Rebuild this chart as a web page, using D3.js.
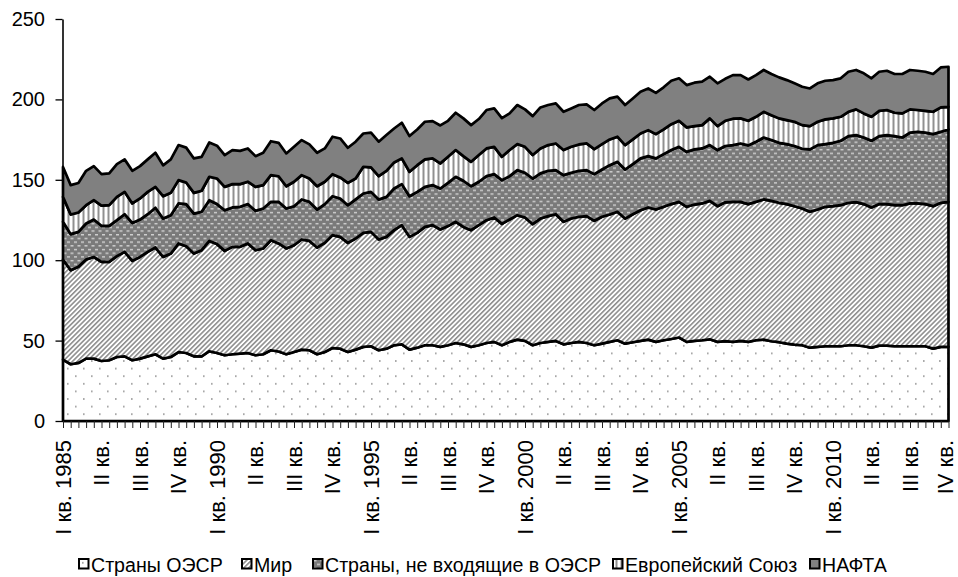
<!DOCTYPE html>
<html>
<head>
<meta charset="utf-8">
<script src="https://cdn.jsdelivr.net/npm/d3@7"></script>
<style>
  html, body { margin: 0; padding: 0; background: #fff; }
  svg { display: block; font-family: "Liberation Sans", Arial, sans-serif; }
</style>
</head>
<body>
<svg id="chart" width="958" height="577"></svg>
<script>
// Quarterly categories, 1985 Q1 – 2013 Q4
const years = d3.range(1985, 2014);
const quarterNames = ["I", "II", "III", "IV"];
const categories = years.flatMap(y => quarterNames.map(q => `${q} кв. ${y}`));

// Labels shown on every fifth quarter
const tickLabels = [
  "I кв. 1985", "II кв.", "III кв.", "IV кв.",
  "I кв. 1990", "II кв.", "III кв.", "IV кв.",
  "I кв. 1995", "II кв.", "III кв.", "IV кв.",
  "I кв. 2000", "II кв.", "III кв.", "IV кв.",
  "I кв. 2005", "II кв.", "III кв.", "IV кв.",
  "I кв. 2010", "II кв.", "III кв.", "IV кв."
];
const labelStep = 5;

const yTicks = [0, 50, 100, 150, 200, 250];

const seriesNames = ["Страны ОЭСР", "Мир", "Страны, не входящие в ОЭСР", "Европейский Союз", "НАФТА"];

const oecd = [
  38.2,35.3,36.1,38.8,38.8,37.3,37.8,39.8,40.2,37.8,38.8,40.2,41.5,38.8,39.8,42.9,42.3,40.2,40.2,43.4,42.3,40.9,41.5,41.9,42.3,40.9,41.5,44.0,43.2,
  41.5,42.9,44.4,44.0,41.5,42.9,45.4,45.0,42.9,44.4,46.1,46.5,44.0,45.0,47.1,47.7,44.4,45.6,47.1,47.1,46.1,47.1,48.5,47.7,46.1,47.1,48.5,49.2,47.1,
  49.2,50.6,49.8,47.1,48.5,49.2,49.8,47.7,48.5,49.2,48.5,47.1,48.1,49.2,50.2,48.1,49.0,49.8,50.6,49.2,50.2,51.0,51.9,49.2,49.8,50.2,50.8,49.2,49.7,
  49.2,49.8,49.2,50.2,50.6,49.6,49.0,48.1,47.5,47.1,45.6,46.1,46.5,46.5,46.5,47.1,47.1,46.5,45.6,46.9,46.9,46.5,46.5,46.5,46.5,46.5,45.0,46.1,46.1
];
const world = [
  62.2,58.5,59.8,61.6,63.2,61.7,61.2,62.7,65.0,61.8,63.2,65.0,66.4,63.2,64.3,67.5,66.4,63.9,66.0,68.6,67.7,64.9,66.8,66.4,68.1,65.3,65.8,68.4,67.2,
  65.8,66.4,68.5,68.0,66.4,67.9,70.2,69.5,67.9,69.1,70.9,71.1,68.9,69.5,71.6,74.1,70.1,71.4,73.6,74.7,73.0,74.1,75.4,73.0,72.6,74.7,76.4,77.4,75.5,
  76.1,77.4,76.8,75.3,77.4,78.2,78.8,76.2,77.4,77.8,78.9,77.4,78.9,79.2,79.9,77.8,79.6,81.3,82.2,82.3,83.0,83.9,84.4,84.0,84.8,85.1,86.1,84.4,86.3,
  87.1,86.5,85.7,86.1,87.2,87.3,86.7,86.8,86.1,85.1,84.5,85.4,86.7,87.1,87.7,88.6,89.0,88.4,87.2,88.0,88.0,87.7,87.7,88.8,88.8,88.4,88.6,89.6,90.2
];
const nonOecd = [
  23.5,22.4,21.7,22.4,23.3,22.4,22.4,22.4,23.4,23.6,23.3,23.4,24.7,23.9,23.9,24.9,26.2,24.9,23.9,25.3,24.9,25.3,24.5,24.9,24.5,24.5,24.9,23.9,25.9,
  24.9,24.3,24.9,24.3,23.6,24.1,24.2,23.9,23.4,24.3,24.5,24.9,24.9,24.9,25.9,25.5,25.3,25.5,24.9,24.9,25.5,26.9,28.0,28.7,27.3,27.0,27.4,26.9,27.2,
  27.0,28.0,27.8,28.4,28.1,28.2,27.4,29.0,28.5,28.6,28.6,29.0,29.4,30.7,31.1,30.5,31.2,32.2,31.9,31.8,32.8,33.6,34.2,34.2,34.3,34.2,34.7,34.9,35.0,
  35.3,36.3,36.5,37.4,38.5,37.8,37.3,37.3,37.4,37.1,38.8,40.1,39.0,39.4,40.1,41.5,41.7,41.4,41.5,42.3,42.9,43.0,42.1,44.0,44.6,44.4,44.8,44.2,45.0
];
const eu = [
  15.5,12.2,12.1,11.4,12.0,12.6,12.8,14.5,13.9,12.1,13.1,13.9,13.0,13.9,13.9,14.5,13.4,12.9,13.1,14.6,15.9,14.5,14.5,14.1,13.9,14.9,14.5,16.6,15.9,
  13.8,15.2,15.1,14.5,14.5,13.9,13.7,13.1,13.9,13.0,16.6,15.2,14.5,16.1,16.2,16.0,15.2,16.6,17.1,16.6,15.6,16.2,16.6,15.3,15.2,16.6,17.2,17.0,14.5,
  16.2,16.2,16.1,14.6,15.5,16.0,16.6,15.6,16.1,16.4,16.6,15.6,15.8,16.0,15.6,15.2,15.3,15.5,16.2,15.1,15.3,16.1,16.2,15.2,14.5,14.5,16.6,14.9,15.7,
  16.4,15.6,15.3,15.5,16.0,15.5,15.2,14.9,15.1,14.7,14.5,14.5,15.4,15.2,14.9,15.1,16.0,15.0,14.9,15.7,15.6,14.5,15.0,14.5,13.5,13.6,13.9,15.1,14.1
];
const nafta = [
  18.6,18.3,18.3,21.4,21.2,19.5,19.8,20.4,20.2,20.3,20.1,20.2,21.2,19.2,20.8,21.8,21.7,21.4,21.1,21.3,20.4,19.8,21.2,20.7,20.7,19.1,20.1,21.1,20.8,
  20.4,21.7,21.8,21.2,20.8,20.7,23.3,24.2,21.8,22.9,20.7,21.6,21.4,22.3,21.1,22.2,22.2,22.2,23.4,23.2,23.6,22.4,23.2,23.5,22.8,22.4,23.9,23.9,24.1,
  22.8,24.3,23.3,24.2,25.5,24.9,24.9,23.8,23.9,24.5,24.3,24.3,25.3,25.5,24.9,24.9,25.5,26.0,25.9,25.7,26.2,27.0,26.4,26.3,27.0,27.0,25.9,26.6,26.1,
  27.1,26.9,25.7,25.9,26.0,25.6,25.5,24.9,23.9,23.9,23.4,23.9,24.0,23.8,23.9,24.9,24.5,24.9,23.9,24.3,24.4,24.1,24.5,24.5,24.4,24.3,23.5,24.9,24.9
];

const seriesValues = [oecd, world, nonOecd, eu, nafta];
const patternIds = ["pDots", "pDiag", "pGrid", "pVert", "pSolid"];

const rows = categories.map((c, i) => {
  const r = { cat: c };
  seriesNames.forEach((n, k) => { r[n] = seriesValues[k][i]; });
  return r;
});

const svg = d3.select("#chart");
const margin = { left: 63, right: 948.5, top: 19, bottom: 421 };

// Fill patterns
const defs = svg.append("defs");
const pDots = defs.append("pattern").attr("id", "pDots").attr("patternUnits", "userSpaceOnUse")
  .attr("width", 16).attr("height", 15.2);
pDots.append("rect").attr("width", 16).attr("height", 15.2).attr("fill", "#fff");
pDots.append("rect").attr("x", 3).attr("y", 3).attr("width", 1.6).attr("height", 1.6).attr("fill", "#999");
pDots.append("rect").attr("x", 11).attr("y", 10.6).attr("width", 1.6).attr("height", 1.6).attr("fill", "#999");

const pDiag = defs.append("pattern").attr("id", "pDiag").attr("patternUnits", "userSpaceOnUse")
  .attr("width", 3.4).attr("height", 3.4).attr("patternTransform", "rotate(45)");
pDiag.append("rect").attr("width", 3.4).attr("height", 3.4).attr("fill", "#fff");
pDiag.append("rect").attr("width", 1.6).attr("height", 3.4).attr("fill", "#8e8e8e");

const pGrid = defs.append("pattern").attr("id", "pGrid").attr("patternUnits", "userSpaceOnUse")
  .attr("width", 7).attr("height", 7.4);
pGrid.append("rect").attr("width", 7).attr("height", 7.4).attr("fill", "#7a7a7a");
pGrid.append("rect").attr("x", 0.5).attr("y", 1).attr("width", 3).attr("height", 1.3).attr("fill", "#d8d8d8");
pGrid.append("rect").attr("x", 4).attr("y", 4.7).attr("width", 3).attr("height", 1.3).attr("fill", "#d8d8d8");

const pVert = defs.append("pattern").attr("id", "pVert").attr("patternUnits", "userSpaceOnUse")
  .attr("width", 5).attr("height", 5);
pVert.append("rect").attr("width", 5).attr("height", 5).attr("fill", "#fff");
pVert.append("rect").attr("x", 2.5).attr("width", 2).attr("height", 5).attr("fill", "#909090");

const pSolid = defs.append("pattern").attr("id", "pSolid").attr("patternUnits", "userSpaceOnUse")
  .attr("width", 4).attr("height", 4);
pSolid.append("rect").attr("width", 4).attr("height", 4).attr("fill", "#808080");

// Scales
const x = d3.scalePoint().domain(categories).range([margin.left, margin.right]);
const y = d3.scaleLinear().domain([0, 250]).range([margin.bottom, margin.top]);

const stacked = d3.stack().keys(seriesNames)(rows);

const area = d3.area()
  .x(d => x(d.data.cat))
  .y0(d => y(d[0]))
  .y1(d => y(d[1]));

svg.append("g").selectAll("path")
  .data(stacked)
  .join("path")
  .attr("d", area)
  .attr("fill", (d, i) => `url(#${patternIds[i]})`)
  .attr("stroke", "#000")
  .attr("stroke-width", 2.7)
  .attr("stroke-linejoin", "round");

// Y axis
const yAxis = svg.append("g")
  .attr("transform", `translate(${margin.left - 0.5},0)`)
  .call(d3.axisLeft(y).tickValues(yTicks).tickSize(7).tickSizeOuter(0).tickPadding(10.5));
yAxis.select(".domain").attr("stroke", "#000").attr("stroke-width", 1.6);
yAxis.selectAll(".tick line").attr("stroke", "#000").attr("stroke-width", 1.3);
yAxis.selectAll("text").attr("font-size", 20).attr("fill", "#000")
  .attr("font-family", "'Liberation Sans', Arial, sans-serif");

// X axis
const labelFor = (d, i) => (i % labelStep === 0 ? tickLabels[i / labelStep] : "");
const lastIndex = categories.length - 1;
const xAxis = svg.append("g")
  .attr("transform", `translate(0,${margin.bottom})`)
  .call(d3.axisBottom(x).tickSize(7).tickSizeOuter(0).tickFormat(labelFor));
xAxis.select(".domain").attr("stroke", "#000").attr("stroke-width", 1.6);
xAxis.selectAll(".tick line").attr("stroke", "#222").attr("stroke-width", 1);
xAxis.selectAll("text")
  .attr("font-size", 22).attr("fill", "#000")
  .attr("font-family", "'Liberation Sans', Arial, sans-serif")
  .attr("transform", "rotate(-90)")
  .attr("text-anchor", "end")
  .attr("x", -19)
  .attr("y", (d, i) => (i === lastIndex ? -3.5 : 0))
  .attr("dy", "0.34em");

// Legend
const legendX = [79, 242, 313, 613, 810];
const legend = svg.append("g").attr("class", "legend");
const items = legend.selectAll("g").data(seriesNames).join("g")
  .attr("transform", (d, i) => `translate(${legendX[i]},559)`);
items.append("rect")
  .attr("width", 9.5).attr("height", 9.5)
  .attr("fill", (d, i) => `url(#${patternIds[i]})`)
  .attr("stroke", "#000").attr("stroke-width", 2);
items.append("text")
  .attr("x", 12).attr("y", 13)
  .attr("font-size", 19.6).attr("fill", "#000")
  .text(d => d);
</script>
</body>
</html>
